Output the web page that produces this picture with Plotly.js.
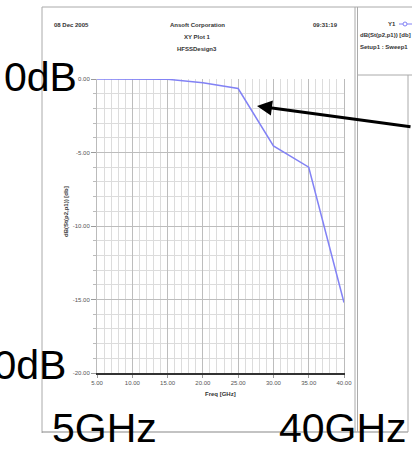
<!DOCTYPE html>
<html><head><meta charset="utf-8">
<script src="https://cdn.plot.ly/plotly-3.0.1.min.js"></script>
<style>html,body{margin:0;padding:0;background:#fff;}#c{width:412px;height:454px;}</style>
</head><body><div id="c"></div>
<script>
// Data
const freqGHz = [5, 10, 15, 20, 25, 30, 35, 40];
const s21dB = [0, 0, -0.02, -0.25, -0.65, -4.55, -6.0, -15.2];
const xTickVals = [5, 10, 15, 20, 25, 30, 35, 40];
const yTickVals = [0, -5, -10, -15, -20];
const headerLeft = "08 Dec 2005";
const headerRight = "09:31:19";
const titleLines = ["Ansoft Corporation", "XY Plot 1", "HFSSDesign3"];
const traceName = "dB(St(p2,p1)) [db]";
const setupName = "Setup1 : Sweep1";

const W = 412, H = 454;
const px = x => x / W;
const py = y => 1 - y / H;
const smallFont = {family: "Liberation Sans Narrow, Liberation Sans, Arial", size: 6, color: "#333"};
const bigFont = {family: "Liberation Sans, Arial", size: 41, color: "#000"};

const trace = {
  x: freqGHz, y: s21dB, type: "scatter", mode: "lines",
  line: {color: "#8282f5", width: 1.5}, hoverinfo: "skip", showlegend: false
};

const gray = "#9a9a9a";
const shapes = [
  // outer frame
  {type: "line", xref: "paper", yref: "paper", x0: px(42), x1: px(412), y0: py(7), y1: py(7), line: {color: "#aaa", width: 1}},
  {type: "line", xref: "paper", yref: "paper", x0: px(42), x1: px(42), y0: py(7), y1: py(433), line: {color: "#aaa", width: 1}},
  {type: "line", xref: "paper", yref: "paper", x0: px(42), x1: px(408), y0: py(432), y1: py(432), line: {color: "#888", width: 1.2}},
  {type: "line", xref: "paper", yref: "paper", x0: px(355), x1: px(355), y0: py(7), y1: py(432), line: {color: "#aaa", width: 1}},
  {type: "line", xref: "paper", yref: "paper", x0: px(357.5), x1: px(357.5), y0: py(7), y1: py(432), line: {color: "#aaa", width: 1}},
  {type: "line", xref: "paper", yref: "paper", x0: px(357), x1: px(412), y0: py(75), y1: py(75), line: {color: "#aaa", width: 1}},
  {type: "line", xref: "paper", yref: "paper", x0: px(408), x1: px(408), y0: py(75), y1: py(432), line: {color: "#aaa", width: 1}},
  // legend swatch
  {type: "line", xref: "paper", yref: "paper", x0: px(399), x1: px(412), y0: py(24), y1: py(24), line: {color: "#8282f5", width: 1}},
  {type: "circle", xref: "paper", yref: "paper", x0: px(403), x1: px(407), y0: py(22), y1: py(26), line: {color: "#8282f5", width: 1}, fillcolor: "#fff"}
];

const annotations = [
  {text: headerLeft, x: px(52), y: py(25), xanchor: "left", yanchor: "middle"},
  {text: headerRight, x: px(340), y: py(25), xanchor: "right", yanchor: "middle"},
  {text: titleLines[0], x: px(197), y: py(25), xanchor: "center", yanchor: "middle"},
  {text: titleLines[1], x: px(197), y: py(37), xanchor: "center", yanchor: "middle"},
  {text: titleLines[2], x: px(197), y: py(49), xanchor: "center", yanchor: "middle"},
  {text: "Y1", x: px(398), y: py(24), xanchor: "right", yanchor: "middle"},
  {text: traceName, x: px(358), y: py(35), xanchor: "left", yanchor: "middle"},
  {text: setupName, x: px(358), y: py(47), xanchor: "left", yanchor: "middle"},
  {text: traceName, x: px(66), y: py(212), xanchor: "center", yanchor: "middle", textangle: -90},
  {text: "Freq [GHz]", x: px(220), y: py(394), xanchor: "center", yanchor: "middle"}
].map(a => Object.assign({xref: "paper", yref: "paper", showarrow: false, font: Object.assign({}, smallFont, {weight: 700})}, a));

// big overlaid labels
annotations.push(
  {text: "0dB", x: px(78), y: py(92), xanchor: "right", yanchor: "bottom", xref: "paper", yref: "paper", showarrow: false, font: bigFont, borderpad: 0, yshift: -9},
  {text: "-20dB", x: px(67), y: py(380), xanchor: "right", yanchor: "bottom", xref: "paper", yref: "paper", showarrow: false, font: bigFont, borderpad: 0, yshift: -9},
  {text: "5GHz", x: px(51), y: py(443), xanchor: "left", yanchor: "bottom", xref: "paper", yref: "paper", showarrow: false, font: bigFont, borderpad: 0, yshift: -9},
  {text: "40GHz", x: px(408), y: py(443), xanchor: "right", yanchor: "bottom", xref: "paper", yref: "paper", showarrow: false, font: bigFont, borderpad: 0, yshift: -9},
  {text: "", x: px(257), y: py(106), xref: "paper", yref: "paper", showarrow: true, ax: 160, ay: 21,
   arrowhead: 2, arrowsize: 1, arrowwidth: 3, arrowcolor: "#000", standoff: 0}
);

const layout = {
  width: W, height: H,
  margin: {l: 0, r: 0, t: 0, b: 0},
  paper_bgcolor: "#fff", plot_bgcolor: "#fff",
  showlegend: false,
  xaxis: {
    domain: [px(97), px(344)], range: [5, 40],
    tickmode: "array", tickvals: xTickVals, ticktext: xTickVals.map(v => v.toFixed(2)),
    tickfont: Object.assign({}, smallFont, {color: "#555"}),
    showgrid: true, gridcolor: "#bdbdbd", gridwidth: 1,
    minor: {dtick: 1, tick0: 5, showgrid: true, gridcolor: "#dcdcdc", ticks: ""},
    showline: true, linecolor: "#333", linewidth: 2, mirror: false,
    ticks: "outside", ticklen: 3, tickcolor: gray, zeroline: false, fixedrange: true
  },
  yaxis: {
    domain: [py(373), py(79)], range: [-20, 0],
    tickmode: "array", tickvals: yTickVals, ticktext: yTickVals.map(v => v.toFixed(2)),
    tickfont: Object.assign({}, smallFont, {color: "#555"}),
    showgrid: true, gridcolor: "#bdbdbd", gridwidth: 1,
    minor: {dtick: 1, tick0: 0, showgrid: true, gridcolor: "#dcdcdc", ticks: "outside", ticklen: 3, tickcolor: "#bbb"},
    showline: true, linecolor: "#bbb", linewidth: 1, mirror: true,
    ticks: "outside", ticklen: 5, tickcolor: gray, zeroline: false, fixedrange: true
  },
  shapes: shapes,
  annotations: annotations
};

Plotly.newPlot("c", [trace], layout, {staticPlot: true, displayModeBar: false});
</script>
</body></html>
